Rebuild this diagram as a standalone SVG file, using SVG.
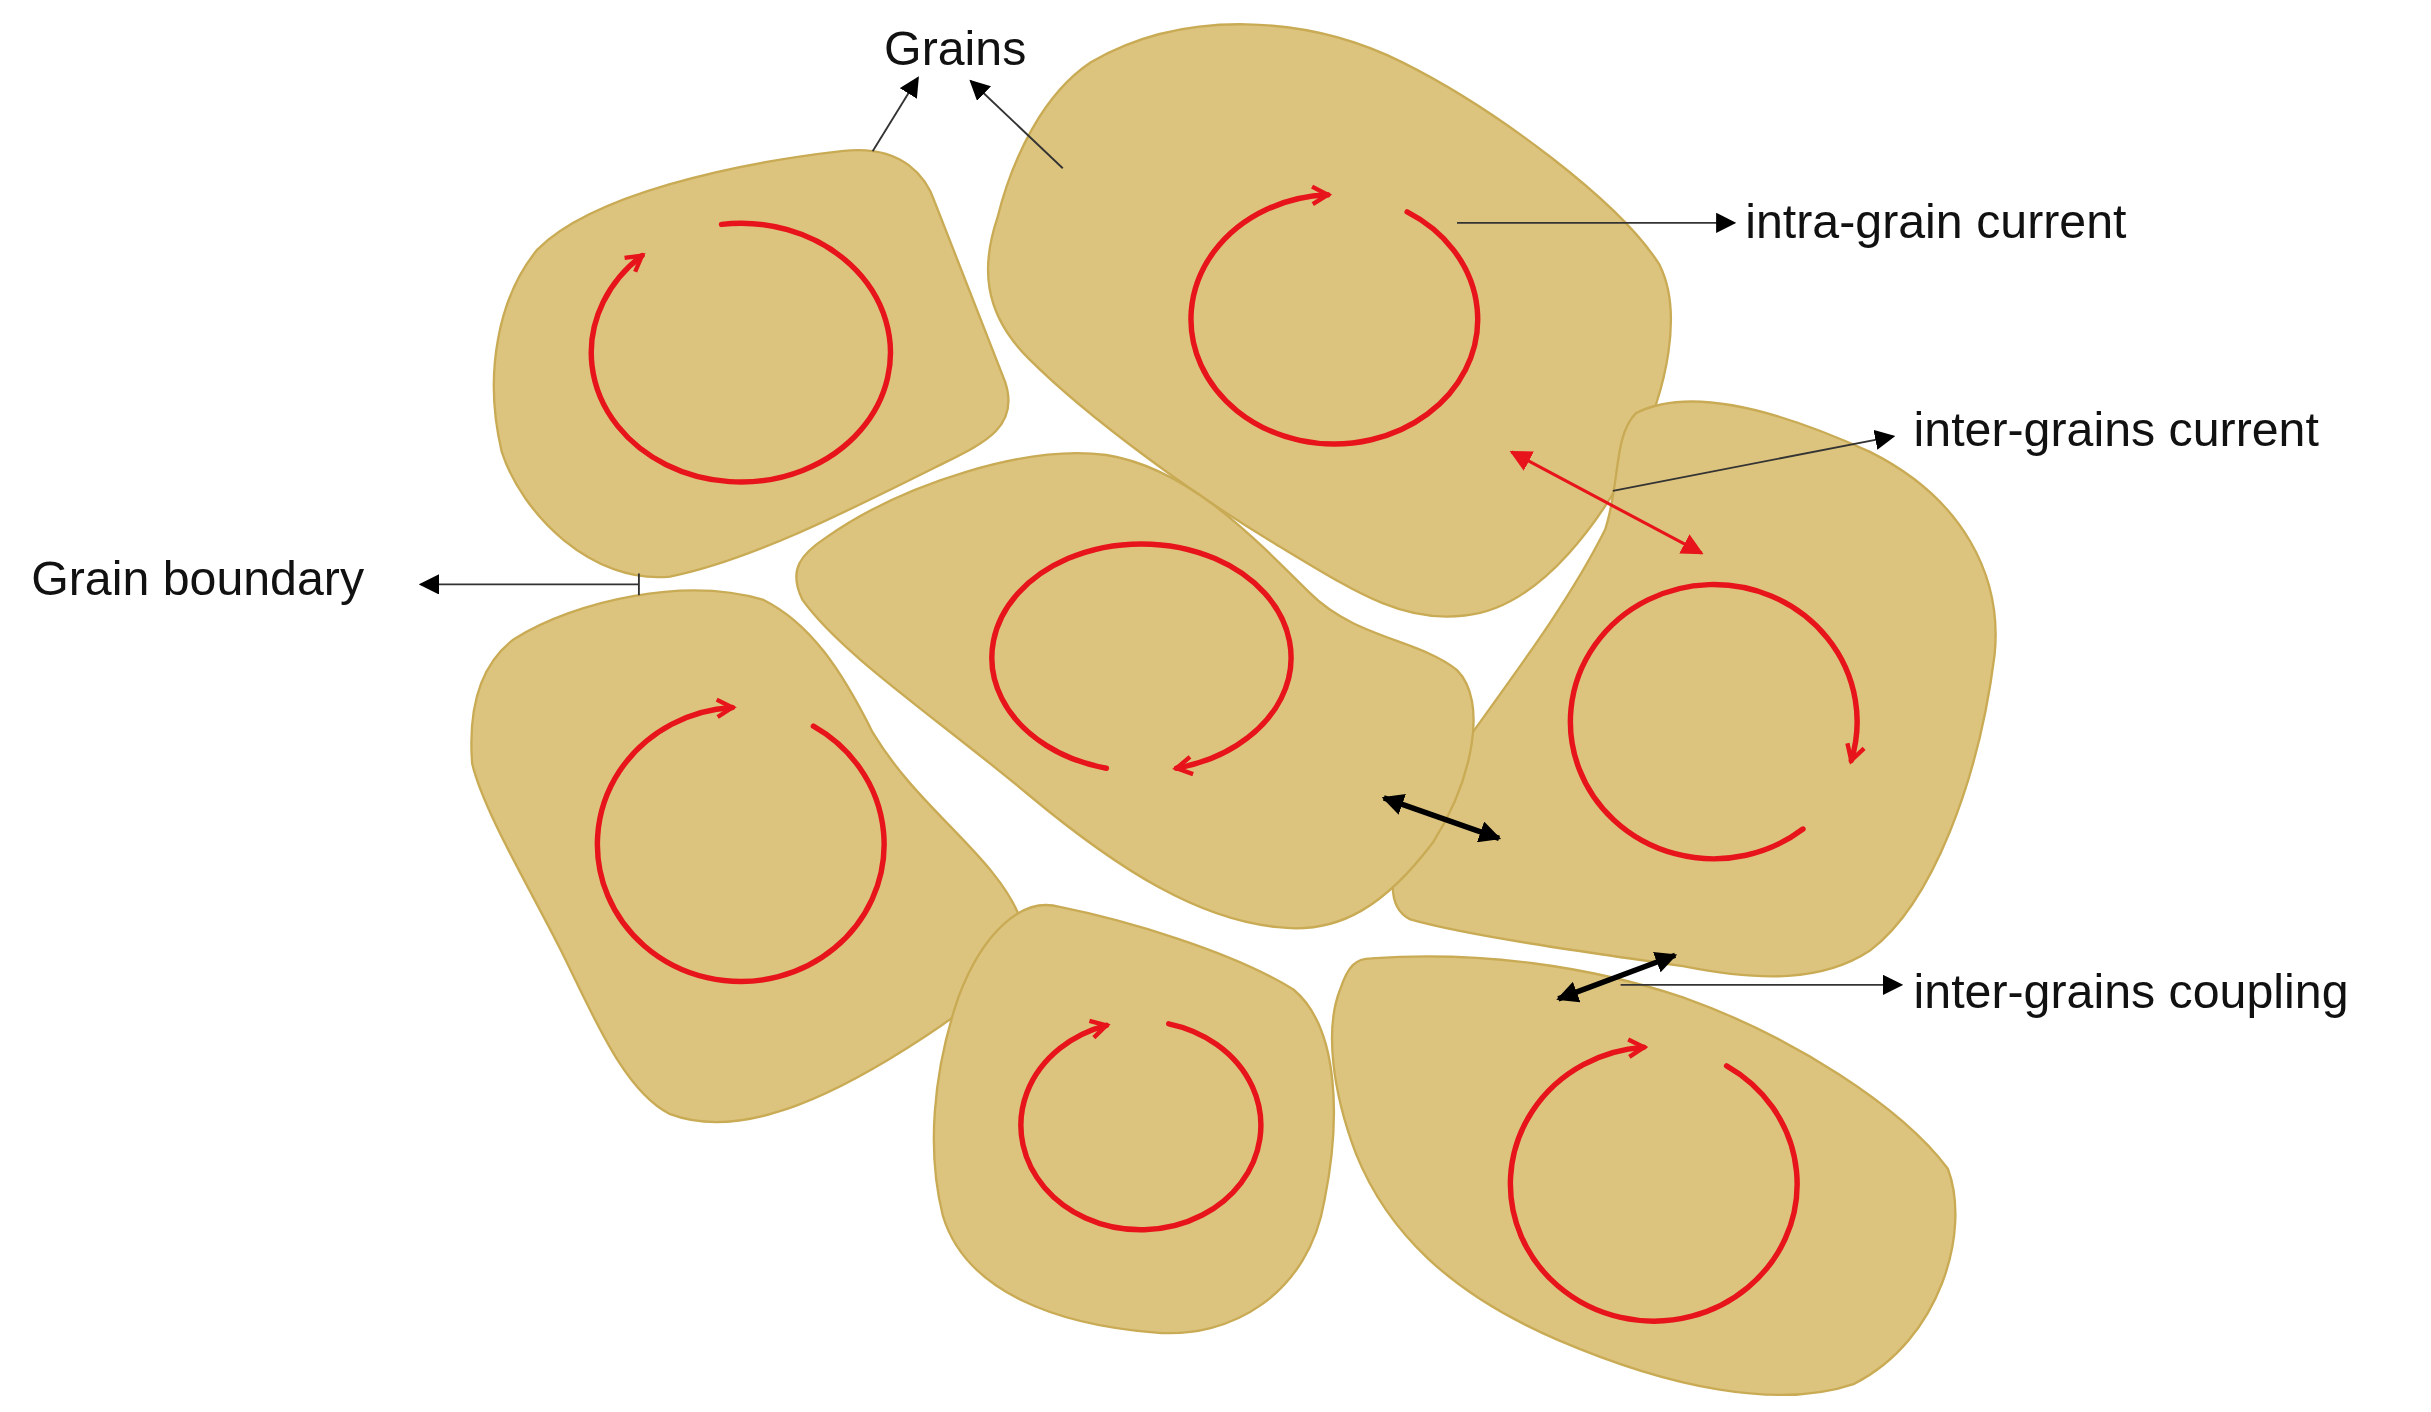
<svg xmlns="http://www.w3.org/2000/svg" width="2431" height="1412" viewBox="0 0 2431 1412">
<style>
.g{fill:#DDC47E;stroke:#C9AB55;stroke-width:1.5}
.c{fill:none;stroke:#E8141B;stroke-width:3.5;stroke-linecap:round}
.l{stroke:#333;stroke-width:1.2;fill:none}
.t{font-family:"Liberation Sans",Arial,sans-serif;font-size:31px;fill:#111}
</style>
<defs>
<marker id="ra" viewBox="0 0 10 10" refX="8" refY="5" markerWidth="4" markerHeight="4" orient="auto" markerUnits="strokeWidth"><path d="M1,1 L8,5 L1,9" fill="none" stroke="#E8141B" stroke-width="2"/></marker>
<marker id="ka" viewBox="0 0 10 10" refX="9" refY="5" markerWidth="14" markerHeight="14" orient="auto-start-reverse" markerUnits="userSpaceOnUse"><path d="M0,0 L10,5 L0,10 Z" fill="#000"/></marker>
<marker id="kb" viewBox="0 0 10 10" refX="9" refY="5" markerWidth="13" markerHeight="13" orient="auto" markerUnits="userSpaceOnUse"><path d="M0,0 L10,5 L0,10 Z" fill="#000"/></marker>
<marker id="rd" viewBox="0 0 10 10" refX="9" refY="5" markerWidth="14" markerHeight="14" orient="auto-start-reverse" markerUnits="userSpaceOnUse"><path d="M0,0 L10,5 L0,10 Z" fill="#E8141B"/></marker>
</defs>
<g transform="scale(1.5583)">
<g id="grainA"><path class="g" d="M540,97 C580,92 595,115 600,130 L645,245 C655,275 630,285 600,300 C540,330 480,360 430,370 C380,375 335,330 322,290 C310,240 320,190 345,160 C380,125 470,105 540,97 Z"/><path class="c" marker-end="url(#ra)" d="M463,144 A96,83 0 1 1 412,164"/></g>
<g id="grainB"><path class="g" d="M700,40 C760,5 840,10 900,40 C960,70 1040,130 1065,170 C1080,200 1070,250 1050,290 C1030,330 990,390 940,395 C900,400 870,380 820,350 C770,320 700,270 660,230 C630,200 630,170 640,140 C650,100 670,60 700,40 Z"/><path class="c" marker-end="url(#ra)" d="M903,136 A92,80 0 1 1 852,125"/></g>
<g id="grainC"><path class="g" d="M1050,265 C1080,250 1130,258 1200,290 C1260,320 1285,370 1280,420 C1270,500 1240,580 1200,610 C1170,630 1130,630 1080,620 C1010,610 940,600 905,590 C885,580 895,545 910,520 C950,460 1000,400 1030,340 C1040,310 1035,280 1050,265 Z"/><path class="c" marker-end="url(#ra)" d="M1157,532 A92,88 0 1 1 1188,488"/></g>
<g id="grainD"><path class="g" d="M530,345 C580,310 660,285 710,292 C760,300 800,340 840,380 C870,410 910,410 935,430 C955,450 945,500 920,540 C890,580 860,600 820,595 C770,590 720,560 660,510 C600,460 540,420 515,385 C505,365 515,355 530,345 Z"/><path class="c" marker-end="url(#ra)" d="M710,493 A96,73 0 1 1 755,493"/></g>
<g id="grainE"><path class="g" d="M330,410 C370,385 440,370 490,385 C520,400 540,430 560,470 C590,520 640,550 655,590 C660,620 620,650 570,680 C520,710 470,730 430,715 C400,700 380,650 360,610 C340,570 310,520 303,490 C300,450 310,425 330,410 Z"/><path class="c" marker-end="url(#ra)" d="M522,466 A92,88 0 1 1 470,454"/></g>
<g id="grainF"><path class="g" d="M680,582 C720,590 790,610 830,635 C860,660 860,720 850,770 C840,830 790,860 740,855 C680,850 620,830 605,780 C595,740 598,690 615,640 C630,600 655,575 680,582 Z"/><path class="c" marker-end="url(#ra)" d="M750,657 A77,67 0 1 1 710,658"/></g>
<g id="grainG"><path class="g" d="M880,615 C950,610 1020,620 1080,640 C1150,665 1220,710 1250,750 C1265,790 1245,860 1190,888 C1140,905 1070,890 1000,860 C930,830 890,790 870,740 C855,700 850,660 860,635 C865,620 870,615 880,615 Z"/><path class="c" marker-end="url(#ra)" d="M1108,684 A92,88 0 1 1 1055,672"/></g>
<g id="connectors">
<line class="l" x1="560" y1="97" x2="589" y2="50" marker-end="url(#kb)"/>
<line class="l" x1="682" y1="108" x2="623" y2="52" marker-end="url(#kb)"/>
<line class="l" x1="935" y1="143" x2="1113" y2="143" marker-end="url(#kb)"/>
<line class="l" x1="1035" y1="315" x2="1215" y2="280" marker-end="url(#kb)"/>
<line class="l" x1="410" y1="375" x2="270" y2="375" marker-end="url(#kb)"/>
<line class="l" x1="410" y1="368" x2="410" y2="382"/>
<line class="l" x1="1040" y1="632" x2="1220" y2="632" marker-end="url(#kb)"/>
<line x1="970" y1="290" x2="1092" y2="355" stroke="#E8141B" stroke-width="2" marker-start="url(#rd)" marker-end="url(#rd)"/>
<line x1="888" y1="512" x2="962" y2="538" stroke="#000" stroke-width="3.5" marker-start="url(#ka)" marker-end="url(#ka)"/>
<line x1="1000" y1="641" x2="1075" y2="613" stroke="#000" stroke-width="3.5" marker-start="url(#ka)" marker-end="url(#ka)"/>
</g>
<g id="labels">
<text class="t" x="613" y="42" text-anchor="middle">Grains</text>
<text class="t" x="1120" y="153">intra-grain current</text>
<text class="t" x="1228" y="286">inter-grains current</text>
<text class="t" x="20" y="382">Grain boundary</text>
<text class="t" x="1228" y="647">inter-grains coupling</text>
</g>
</g>
</svg>
